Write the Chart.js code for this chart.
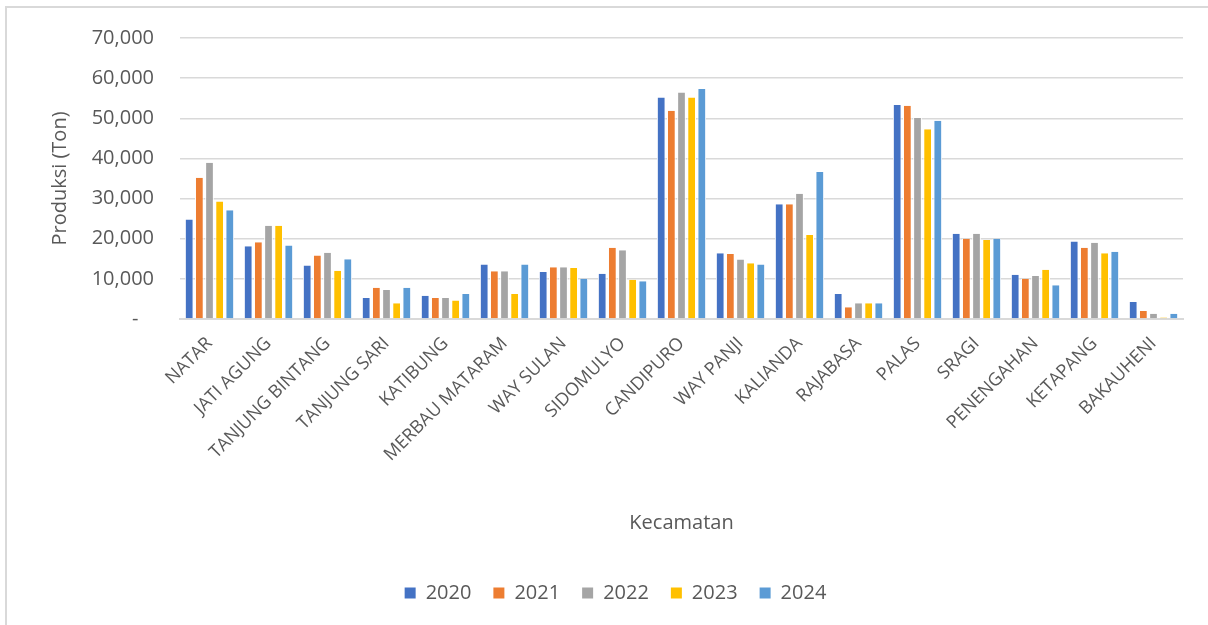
<!DOCTYPE html>
<html>
<head>
<meta charset="utf-8">
<script src="https://cdn.jsdelivr.net/npm/chart.js@4"></script>
<style>
  html, body { margin: 0; padding: 0; background: #fff; }
  #wrap { position: relative; width: 1208px; height: 625px; }
  #frame { position: absolute; left: 5px; top: 6px; right: -4px; bottom: -4px;
           border-left: 2px solid #d9d9d9; border-top: 2px solid #d9d9d9; }
  canvas { position: absolute; left: 0; top: 0; }
</style>
</head>
<body>
<div id="wrap">
  <div id="frame"></div>
  <canvas id="chart" width="1208" height="625"></canvas>
</div>
<script>
// ─── data ────────────────────────────────────────────────────────────────
const KECAMATAN = [
  'NATAR', 'JATI AGUNG', 'TANJUNG BINTANG', 'TANJUNG SARI', 'KATIBUNG',
  'MERBAU MATARAM', 'WAY SULAN', 'SIDOMULYO', 'CANDIPURO', 'WAY PANJI',
  'KALIANDA', 'RAJABASA', 'PALAS', 'SRAGI', 'PENENGAHAN', 'KETAPANG', 'BAKAUHENI',
];

const YEARS = ['2020', '2021', '2022', '2023', '2024'];

const P2020 = [24800, 18100, 13300, 5250, 5800, 13600, 11700, 11300, 55200, 16400, 28600, 6200, 53300, 21250, 11000, 19300, 4250];
const P2021 = [35200, 19100, 15800, 7800, 5250, 11900, 12900, 17750, 51900, 16200, 28600, 2900, 53100, 20000, 10000, 17750, 2000];
const P2022 = [38900, 23200, 16500, 7200, 5250, 11900, 12900, 17100, 56400, 14800, 31200, 3900, 50100, 21250, 10700, 19000, 1300];
const P2023 = [29300, 23200, 12000, 3900, 4600, 6200, 12700, 9750, 55200, 13900, 20900, 3900, 47250, 19700, 12250, 16400, 400];
const P2024 = [27100, 18300, 14900, 7800, 6200, 13600, 10000, 9400, 57300, 13600, 36600, 3900, 49400, 20000, 8400, 16750, 1300];

const Y_MAX  = 70000;
const Y_STEP = 10000;

const CC = {
  text:  '#595959',
  grid:  '#d9d9d9',
  y2020: '#4472C4',
  y2021: '#ED7D31',
  y2022: '#A5A5A5',
  y2023: '#FFC000',
  y2024: '#5B9BD5',
};

const FONT = "'Open Sans', sans-serif";

function barDS(label, data, color) {
  return {
    label, data,
    backgroundColor: color,
    borderColor: '#ffffff',
    borderWidth: { left: 1, right: 1, top: 0, bottom: 0 },
    borderSkipped: 'bottom',
  };
}

const datasets = [
  barDS(YEARS[0], P2020, CC.y2020),
  barDS(YEARS[1], P2021, CC.y2021),
  barDS(YEARS[2], P2022, CC.y2022),
  barDS(YEARS[3], P2023, CC.y2023),
  barDS(YEARS[4], P2024, CC.y2024),
];

new Chart(document.getElementById('chart'), {
  type: 'bar',
  data: { labels: KECAMATAN, datasets },
  options: {
    responsive: false,
    animation: false,
    events: [],
    layout: { padding: { left: 48, right: 25, top: 27, bottom: 12 } },
    datasets: { bar: { barPercentage: 0.86, categoryPercentage: 0.86 } },
    plugins: {
      tooltip: { enabled: false },
      legend: {
        position: 'bottom',
        labels: {
          color: CC.text,
          font: { family: FONT, size: 20 },
          boxWidth: 11, boxHeight: 11,
          padding: 22,
          generateLabels: chart => chart.data.datasets.map((ds, i) => ({
            text: ds.label,
            fillStyle: ds.backgroundColor,
            strokeStyle: ds.backgroundColor,
            lineWidth: 0,
            fontColor: CC.text,
            datasetIndex: i,
          })),
        },
      },
    },
    scales: {
      x: {
        grid: { display: false, drawTicks: false },
        border: { display: true, color: CC.grid, width: 2 },
        ticks: {
          color: CC.text,
          font: { family: FONT, size: 18 },
          minRotation: 45, maxRotation: 45,
          autoSkip: false,
          padding: 14,
        },
        title: {
          display: true, text: 'Kecamatan',
          color: CC.text,
          font: { family: FONT, size: 20 },
          padding: { top: 0, bottom: 26 },
        },
        afterFit: axis => { axis.height = 242; },
      },
      y: {
        min: 0, max: Y_MAX,
        grid: { color: CC.grid, lineWidth: 1.5, drawTicks: false },
        border: { display: false },
        ticks: {
          stepSize: Y_STEP,
          color: CC.text,
          font: { family: FONT, size: 20 },
          padding: 26,
          callback: v => v === 0 ? '-   ' : v.toLocaleString('en-US'),
        },
        title: {
          display: true, text: 'Produksi (Ton)',
          color: CC.text,
          font: { family: FONT, size: 20 },
          padding: { top: 0, bottom: 8 },
        },
        afterFit: axis => { axis.width = 132; },
      },
    },
  },
});
</script>
</body>
</html>
